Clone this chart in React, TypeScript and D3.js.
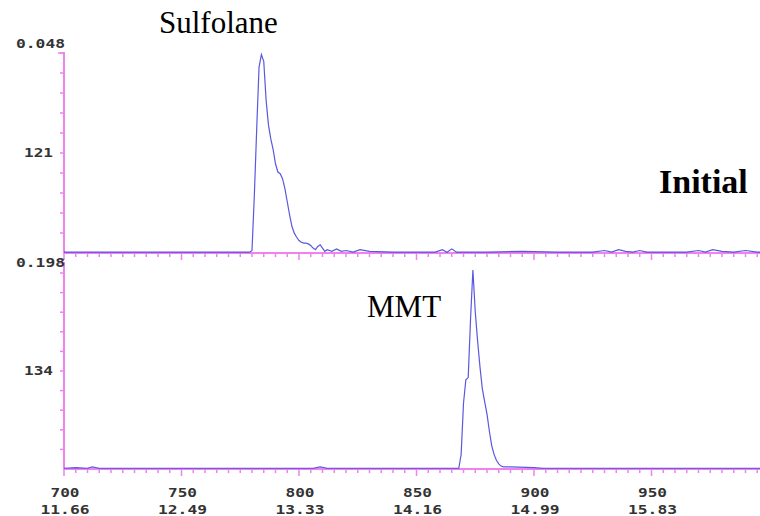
import React from "react";
import * as d3 from "d3";

// ---- data ----
const xMajorTicks = [700, 750, 800, 850, 900, 950];
const xTimeLabels = ["11.66", "12.49", "13.33", "14.16", "14.99", "15.83"];

// Top panel (Sulfolane): [scan, intensity]
const topTrace: [number, number][] = [
  [700, 1], [710, 1], [725, 1], [740, 1], [755, 1], [770, 1], [779, 1],
  [780, 3], [781, 70], [782, 150], [783, 225], [784, 240], [785, 232], [786, 185],
  [787, 155], [788, 138], [789, 125], [790, 108], [791, 98], [792, 96], [793, 90],
  [794, 78], [795, 62], [796, 46], [797, 32], [798, 24], [799, 19], [800, 15],
  [801, 13], [802, 12], [803, 12], [804, 11], [805, 9], [806, 6], [807, 4],
  [808, 8], [809, 10], [810, 6], [811, 2], [812, 4], [814, 2], [816, 5], [818, 2],
  [820, 3], [823, 1], [826, 4], [830, 2], [840, 1], [850, 1], [858, 1], [861, 4],
  [863, 1], [865, 5], [867, 1], [870, 1], [880, 1], [895, 2], [910, 1], [925, 1],
  [930, 3], [933, 1], [936, 4], [939, 2], [942, 1], [945, 3], [948, 1], [955, 1],
  [965, 1], [970, 3], [973, 1], [976, 4], [980, 2], [985, 1], [990, 3], [995, 1], [1000, 1],
];

// Bottom panel (MMT): [scan, intensity]
const bottomTrace: [number, number][] = [
  [700, 1], [705, 2], [710, 1], [712, 3], [715, 1], [730, 1], [760, 1], [790, 1],
  [806, 1], [809, 3], [812, 1], [840, 1], [866, 1], [868, 1],
  [869, 20], [870, 90], [871, 122], [872, 125], [873, 205], [874, 272], [875, 215],
  [876, 175], [877, 140], [878, 110], [879, 92], [880, 75], [881, 52], [882, 32],
  [883, 20], [884, 12], [885, 7], [886, 4], [887, 3], [890, 3], [900, 2], [904, 1],
  [930, 1], [960, 1], [1000, 1],
];

const topLabels = { top: "0.048", mid: "121" };
const bottomLabels = { top: "0.198", mid: "134" };
const topMid = 121;
const bottomMid = 134;

const AXIS = "#ee82ee";
const TRACE = "#3c3cd8";
const TXT = "#333";

function MonoText({ x, y, text, anchor }: { x: number; y: number; text: string; anchor: string }) {
  return (
    <text
      x={x}
      y={y}
      textAnchor={anchor as any}
      fontFamily="'DejaVu Sans Mono', monospace"
      fontWeight="bold"
      fontSize={13}
      fill={TXT}
      textLength={text.length * 10 - 1}
      lengthAdjust="spacingAndGlyphs"
    >
      {text}
    </text>
  );
}

export default function App() {
  const W = 760, H = 516;
  const x0 = 64;
  const x = d3.scaleLinear().domain([700, 1000]).range([x0, x0 + 300 * 2.35]);

  const panels = [
    { data: topTrace, top: 52, base: 253, mid: topMid, labels: topLabels },
    { data: bottomTrace, top: 262, base: 469, mid: bottomMid, labels: bottomLabels },
  ];

  const minorX = d3.range(700, 1000, 5);

  return (
    <svg
      width={W}
      height={H}
      style={{ position: "absolute", left: 0, top: 0, display: "block", background: "#fff" }}
    >
      <rect x={0} y={0} width={W} height={H} fill="#fff" />
      {panels.map((p, i) => {
        // mid label position: mid intensity sits at (base - 100) for top, (base - 98) for bottom
        const midPx = i === 0 ? 100 : 98;
        const y = d3.scaleLinear().domain([0, p.mid]).range([p.base, p.base - midPx]);
        const line = d3
          .line<[number, number]>()
          .x((d) => x(d[0]))
          .y((d) => y(d[1]));
        const step = p.mid / 5;
        const yTicks = d3.range(0, y.invert(p.top) + 0.01, step).filter((v) => v > 0);
        return (
          <g key={i}>
            {/* y axis */}
            <line x1={x0} x2={x0} y1={p.top} y2={p.base} stroke={AXIS} strokeWidth={2} />
            <line x1={x0 - 6} x2={x0} y1={p.top + 1} y2={p.top + 1} stroke={AXIS} strokeWidth={1.5} />
            {yTicks.map((v, j) => (
              <line key={j} x1={x0 - 4} x2={x0} y1={y(v)} y2={y(v)} stroke={AXIS} strokeWidth={1.5} />
            ))}
            {/* x axis */}
            <line x1={x0} x2={W} y1={p.base} y2={p.base} stroke={AXIS} strokeWidth={2} />
            {minorX.map((v) => (
              <line
                key={v}
                x1={x(v)}
                x2={x(v)}
                y1={p.base}
                y2={p.base + (v % 50 === 0 ? 7 : 4)}
                stroke={AXIS}
                strokeWidth={1.5}
              />
            ))}
            {/* trace */}
            <path d={line(p.data) || ""} fill="none" stroke={TRACE} strokeWidth={1.2} strokeOpacity={0.85} />
            {/* labels */}
            <MonoText x={x0 + 1} y={p.top - 4 + (i === 0 ? 0 : 9)} text={p.labels.top} anchor="end" />
            <MonoText x={53} y={y(p.mid) + 4} text={p.labels.mid} anchor="end" />
          </g>
        );
      })}
      {/* x tick labels */}
      {xMajorTicks.map((v, i) => (
        <g key={v}>
          <MonoText x={x(v) + 1} y={497} text={String(v)} anchor="middle" />
          <MonoText x={x(v) + 1} y={514} text={xTimeLabels[i]} anchor="middle" />
        </g>
      ))}
      {/* annotations */}
      <text x={159} y={33} fontFamily="'Liberation Serif', 'Times New Roman', serif" fontSize={31} fill="#000">
        Sulfolane
      </text>
      <text x={367} y={317} fontFamily="'Liberation Serif', 'Times New Roman', serif" fontSize={31} fill="#000">
        MMT
      </text>
      <text
        x={659}
        y={193}
        fontFamily="'Liberation Serif', 'Times New Roman', serif"
        fontSize={34}
        fontWeight="bold"
        fill="#000"
      >
        Initial
      </text>
    </svg>
  );
}
